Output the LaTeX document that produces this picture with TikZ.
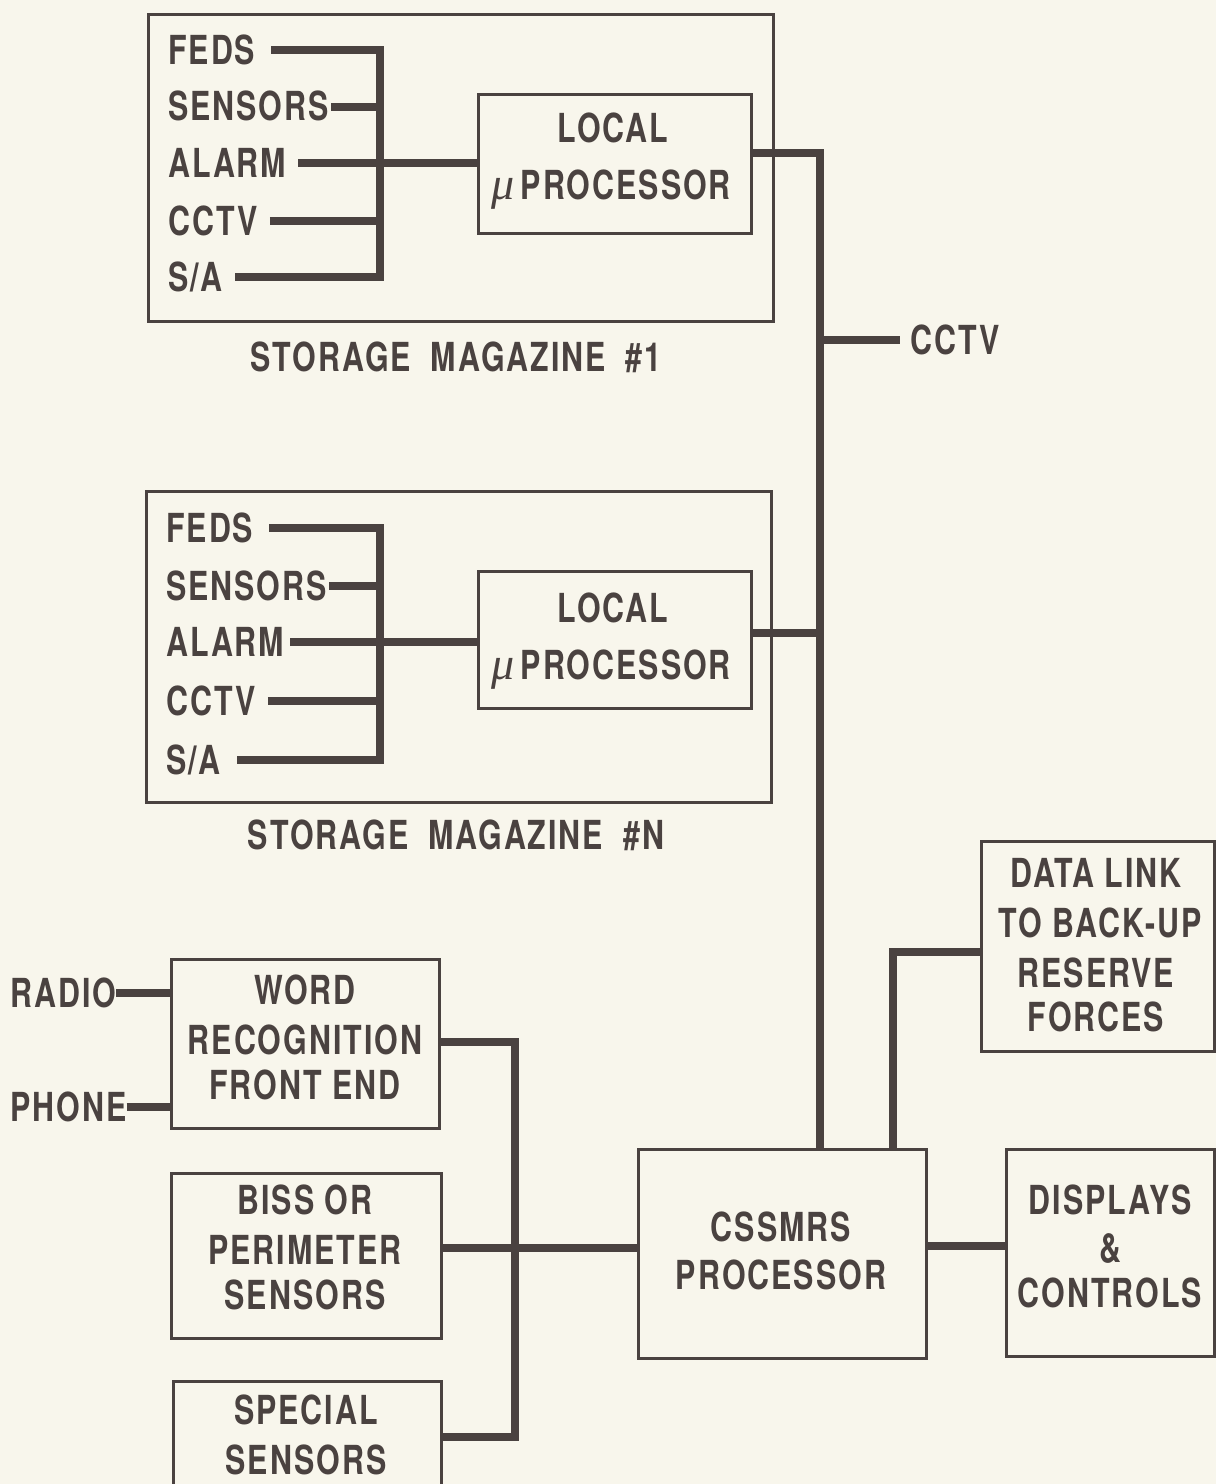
\documentclass[tikz,border=0pt]{standalone}
\usepackage{fontspec}
\newfontfamily\dfont{TeX Gyre Heros}[FakeStretch=0.76,LetterSpace=5.0]
\newfontfamily\mufont{Liberation Serif}
\definecolor{bg}{HTML}{F8F6EC}
\definecolor{ink}{HTML}{4A4240}
\newcommand\mysym{{\mufont\itshape\mdseries\fontsize{46}{48}\selectfont μ}}
\newcommand\wgap{\hspace{20pt}}
\begin{document}
\begin{tikzpicture}[x=1pt,y=-1pt,
  wire/.style={draw=ink,line width=8pt,line join=miter,line cap=butt},
  box/.style={draw=ink,line width=3pt,anchor=north west,inner sep=0pt,fill=none},
  txt/.style={text=ink,font=\dfont\bfseries\fontsize{40}{48}\selectfont,inner sep=0pt},
  lbl/.style={txt,anchor=base west},
  ctr/.style={txt,anchor=base}]
\clip (0,0) rectangle (1216,1484);
\fill[bg] (0,0) rectangle (1216,1484);

% ---------- Storage magazine #1 ----------
\node[box,minimum width=625,minimum height=307] (mag1) at (147,13) {};
\node[box,minimum width=273,minimum height=139] (lp1) at (477,93) {};
\node[ctr] (lp1a) at (613,142) {LOCAL};
\node[ctr] (lp1b) at (611,199) {\mysym\,PROCESSOR};
\node[lbl] (f1) at (168,64) {FEDS};
\node[lbl] (s1) at (168,120) {SENSORS};
\node[lbl] (a1) at (168,177) {ALARM};
\node[lbl] (c1) at (168,235) {CCTV};
\node[lbl] (sa1) at (168,291) {S/A};
\coordinate (b1t) at (380,50);
\coordinate (b1b) at (380,277);
\draw[wire] ([xshift=16pt]f1.east |- b1t) -- (b1t) -- (b1b) -- ([xshift=12pt]sa1.east |- b1b);
\draw[wire] ([xshift=2pt]s1.east |- 0,107) -- (380,107);
\draw[wire] ([xshift=12pt]a1.east |- 0,163) -- (lp1.west |- 0,163);
\draw[wire] ([xshift=12pt]c1.east |- 0,221) -- (380,221);
\node[ctr] (cap1) at (456,371) {STORAGE\wgap MAGAZINE\wgap\#1};

% ---------- Storage magazine #N ----------
\node[box,minimum width=625,minimum height=311] (magN) at (145,490) {};
\node[box,minimum width=273,minimum height=137] (lpN) at (477,570) {};
\node[ctr] (lpNa) at (613,622) {LOCAL};
\node[ctr] (lpNb) at (611,679) {\mysym\,PROCESSOR};
\node[lbl] (fN) at (166,542) {FEDS};
\node[lbl] (sN) at (166,600) {SENSORS};
\node[lbl] (aN) at (166,656) {ALARM};
\node[lbl] (cN) at (166,715) {CCTV};
\node[lbl] (saN) at (166,774) {S/A};
\coordinate (bNt) at (380,528);
\coordinate (bNb) at (380,760);
\draw[wire] ([xshift=16pt]fN.east |- bNt) -- (bNt) -- (bNb) -- ([xshift=16pt]saN.east |- bNb);
\draw[wire] ([xshift=2pt]sN.east |- 0,586) -- (380,586);
\draw[wire] ([xshift=6pt]aN.east |- 0,642) -- (lpN.west |- 0,642);
\draw[wire] ([xshift=12pt]cN.east |- 0,701) -- (380,701);
\node[ctr] (capN) at (456,849) {STORAGE\wgap MAGAZINE\wgap\#N};

% ---------- central processor and bus ----------
\node[box,minimum width=288,minimum height=209] (css) at (637,1148) {};
\node[ctr] (css1) at (781,1241) {CSSMRS};
\node[ctr] (css2) at (781,1289) {PROCESSOR};
\coordinate (j1) at (820,153);
\coordinate (jN) at (820,633);
\coordinate (jc) at (820,340);
\draw[wire] (lp1.east |- j1) -- (j1) -- (j1 |- css.north);
\draw[wire] (lpN.east |- jN) -- (jN);
\node[lbl] (cctv) at (910,354) {CCTV};
\draw[wire] (jc) -- ([xshift=-10pt]cctv.west |- jc);

% ---------- data link ----------
\node[box,minimum width=233,minimum height=210] (dl) at (980,840) {};
\node[ctr] (dl1) at (1096,887) {DATA LINK};
\node[ctr] (dl2) at (1100,937) {TO BACK-UP};
\node[ctr] (dl3) at (1096,987) {RESERVE};
\node[ctr] (dl4) at (1096,1031) {FORCES};
\coordinate (jd) at (893,952);
\draw[wire] (jd |- css.north) -- (jd) -- (dl.west |- jd);

% ---------- displays ----------
\node[box,minimum width=208,minimum height=207] (disp) at (1005,1148) {};
\node[ctr] (dp1) at (1110,1214) {DISPLAYS};
\node[ctr] (dp2) at (1110,1262) {\&};
\node[ctr] (dp3) at (1110,1307) {CONTROLS};
\draw[wire] (css.east |- 0,1246) -- (disp.west |- 0,1246);

% ---------- input side ----------
\node[box,minimum width=268,minimum height=169] (wr) at (170,958) {};
\node[ctr] (wr1) at (305,1004) {WORD};
\node[ctr] (wr2) at (305,1054) {RECOGNITION};
\node[ctr] (wr3) at (305,1099) {FRONT END};
\node[lbl] (radio) at (10,1007) {RADIO};
\node[lbl] (phone) at (10,1121) {PHONE};
\draw[wire] (radio.east |- 0,993) -- (wr.west |- 0,993);
\draw[wire] (phone.east |- 0,1107) -- (wr.west |- 0,1107);

\node[box,minimum width=270,minimum height=165] (biss) at (170,1172) {};
\node[ctr] (bs1) at (305,1214) {BISS OR};
\node[ctr] (bs2) at (305,1264) {PERIMETER};
\node[ctr] (bs3) at (305,1309) {SENSORS};

\node[box,minimum width=268,minimum height=160] (spec) at (172,1380) {};
\node[ctr] (sp1) at (306,1424) {SPECIAL};
\node[ctr] (sp2) at (306,1474) {SENSORS};

\coordinate (cw) at (515,1042);
\coordinate (cs) at (515,1437);
\draw[wire] (wr.east |- cw) -- (cw) -- (cs) -- (spec.east |- cs);
\draw[wire] (biss.east |- 0,1248) -- (css.west |- 0,1248);
\end{tikzpicture}
\end{document}
